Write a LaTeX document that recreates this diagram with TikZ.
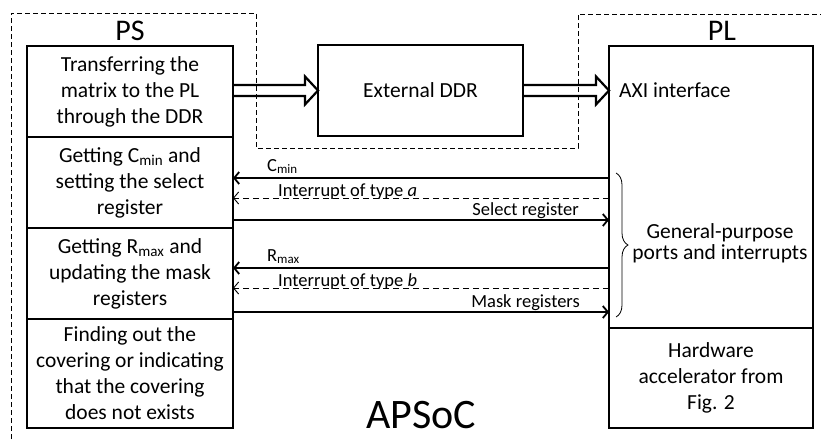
\documentclass[tikz,border=0pt]{standalone}
\usepackage{fontspec}
\setmainfont{Carlito}
\usetikzlibrary{arrows.meta}
\usetikzlibrary{positioning}
\usetikzlibrary{decorations.pathreplacing}
\tikzset{blk/.style={draw, line width=2.2pt, outer sep=0pt, inner sep=2pt, align=center,
  font=\fontsize{21.5}{26}\selectfont}}
\tikzset{sig/.style={line width=1.8pt, -{Straight Barb[length=5pt,width=12pt]}}}
\tikzset{irq/.style={line width=0.9pt, dash pattern=on 6pt off 4pt, -{Straight Barb[length=5pt,width=12pt]}}}
\tikzset{lbl/.style={inner sep=0pt, font=\fontsize{18.5}{22}\selectfont}}
\tikzset{fat/.style={line width=2.2pt, line join=miter}}
\newcommand{\fatarrow}[2]{%
  \draw[fat] ([yshift=5.5pt]#1) -- ([xshift=-13pt,yshift=5.5pt]#2) -- ([xshift=-13pt,yshift=14pt]#2)
    -- (#2) -- ([xshift=-13pt,yshift=-14pt]#2) -- ([xshift=-13pt,yshift=-5.5pt]#2) -- ([yshift=-5.5pt]#1);}

\begin{document}
\begin{tikzpicture}[x=1pt, y=-1pt, node distance=0pt]
  \useasboundingbox (0,0) rectangle (821,439);
  % chip outline
  \draw [line width=0.8pt, dash pattern=on 5pt off 3pt] (11,439) -- (11,13) -- (256,13) -- (256,148)
    -- (578,148) -- (578,14) -- (821,14);

  % processing system
  \node [blk, minimum width=206pt, minimum height=91pt] (ps1) at (130,91.5) {Transferring the\\matrix to the PL\\through the DDR};
  \node [blk, minimum width=206pt, minimum height=91pt, below=of ps1] (ps2) {Getting C\textsubscript{min} and\\setting the select\\register};
  \node [blk, minimum width=206pt, minimum height=91pt, below=of ps2] (ps3) {Getting R\textsubscript{max} and\\updating the mask\\registers};
  \node [blk, minimum width=206pt, minimum height=109pt, below=of ps3] (ps4) {Finding out the\\covering or indicating\\that the covering\\does not exists};
  \node [anchor=base, inner sep=0pt, font=\fontsize{30}{32}\selectfont] (pslbl) at ([yshift=6pt]ps1.north) {PS};

  % programmable logic
  \node [blk, minimum width=204pt, minimum height=282pt] (pl1) at (711,187) {};
  \node [blk, minimum width=204pt, minimum height=100pt, below=of pl1] (pl2) {Hardware\\accelerator from\\Fig. 2};
  \node [anchor=base, inner sep=0pt, font=\fontsize{30}{32}\selectfont] (pllbl) at ([xshift=11pt,yshift=6pt]pl1.north) {PL};

  \node [blk, minimum width=205pt, minimum height=91pt] (ddr) at (420.5,90.5) {External DDR};

  \coordinate (ddrin) at (ps1.east |- ddr.west);
  \coordinate (axiin) at (pl1.west |- ddr.east);
  \fatarrow{ddrin}{ddr.west}
  \fatarrow{ddr.east}{axiin}
  \node [anchor=west, inner sep=0pt, font=\fontsize{21.5}{26}\selectfont] (axi) at ([xshift=10pt]axiin) {AXI interface};

  % ports and interrupts
  \foreach \name/\dy/\row in {cmin/4.5/2, inta/-15.5/2, selreg/-37.5/2, rmax/5.5/3, intb/-14.5/3, mask/-38.5/3}
    \coordinate (\name) at ([yshift=\dy pt]ps\row.east);
  \draw [sig] (cmin -| pl1.west) -- (cmin);
  \draw [irq] (inta -| pl1.west) -- (inta);
  \draw [sig] (selreg) -- (selreg -| pl1.west);
  \draw [sig] (rmax -| pl1.west) -- (rmax);
  \draw [irq] (intb -| pl1.west) -- (intb);
  \draw [sig] (mask) -- (mask -| pl1.west);

  \node [lbl, anchor=base west] (cminlbl) at ([xshift=34pt,yshift=7pt]cmin) {C\textsubscript{min}};
  \node [lbl, anchor=base west] (intalbl) at ([xshift=45pt,yshift=1.5pt]inta) {Interrupt of type \textit{a}};
  \node [lbl, anchor=base east] (sellbl) at ([xshift=-30pt,yshift=4.5pt]selreg -| pl1.west) {Select register};
  \node [lbl, anchor=base west] (rmaxlbl) at ([xshift=34pt,yshift=7pt]rmax) {R\textsubscript{max}};
  \node [lbl, anchor=base west] (intblbl) at ([xshift=45pt,yshift=1.5pt]intb) {Interrupt of type \textit{b}};
  \node [lbl, anchor=base east] (masklbl) at ([xshift=-29pt,yshift=5pt]mask -| pl1.west) {Mask registers};

  \draw [line width=0.8pt, decorate, decoration={brace, amplitude=12pt}] (616,173) -- (616,317);
  \node [align=center, inner sep=0pt, font=\fontsize{21.5}{21}\selectfont] (gplbl) at (720,243) {General-purpose\\ports and interrupts};

  \node [anchor=base, inner sep=0pt, font=\fontsize{42}{44}\selectfont] (apsoc) at (421,428) {APSoC};
\end{tikzpicture}
\end{document}
